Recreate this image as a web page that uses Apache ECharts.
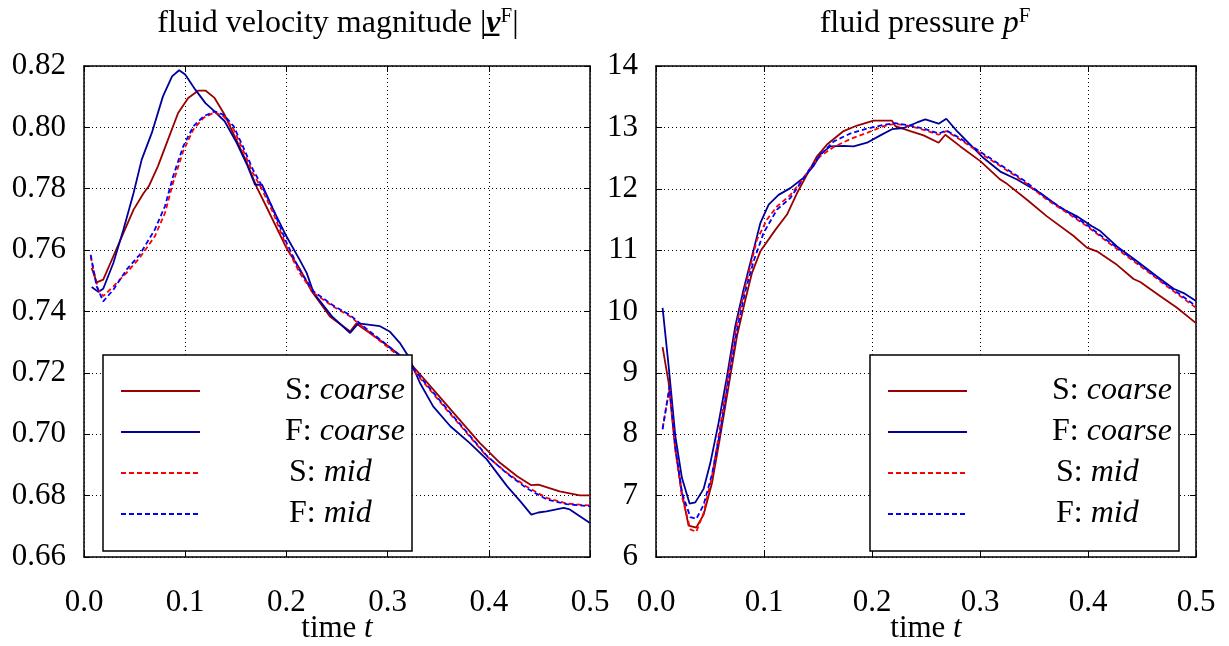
<!DOCTYPE html>
<html>
<head>
<meta charset="utf-8">
<script src="https://cdn.jsdelivr.net/npm/echarts@6/dist/echarts.min.js"></script>
<style>
html,body{margin:0;padding:0;background:#fff;}
#chart{width:1229px;height:646px;}
</style>
</head>
<body>
<div id="chart"></div>
<script>
// ---------- data ----------
const seriesNames = ['S: coarse', 'F: coarse', 'S: mid', 'F: mid'];
const xTicks = [0.0, 0.1, 0.2, 0.3, 0.4, 0.5];
const velTicks = [0.66, 0.68, 0.70, 0.72, 0.74, 0.76, 0.78, 0.80, 0.82];
const presTicks = [6, 7, 8, 9, 10, 11, 12, 13, 14];

// fluid velocity magnitude
const velT_Scoarse = [0.0076,0.0125,0.019,0.029,0.039,0.049,0.059,0.064,0.073,0.083,0.093,0.103,0.113,0.12,0.129,0.139,0.149,0.161,0.171,0.18,0.2,0.213,0.225,0.243,0.263,0.269,0.296,0.322,0.345,0.368,0.391,0.411,0.428,0.442,0.449,0.47,0.49,0.5];
const velV_Scoarse = [0.7542,0.7495,0.7504,0.758,0.7656,0.7732,0.7786,0.7808,0.7873,0.796,0.8047,0.8096,0.812,0.812,0.8096,0.8041,0.797,0.7884,0.7803,0.7743,0.7607,0.754,0.7466,0.7384,0.7335,0.7361,0.7298,0.7233,0.7146,0.7059,0.6972,0.6907,0.6863,0.6834,0.6836,0.6814,0.6801,0.6801];

const velT_Fcoarse = [0.0076,0.0141,0.019,0.029,0.039,0.049,0.057,0.067,0.078,0.087,0.094,0.1,0.11,0.12,0.129,0.139,0.151,0.161,0.169,0.176,0.187,0.2,0.213,0.22,0.227,0.245,0.263,0.271,0.2925,0.302,0.312,0.3205,0.332,0.345,0.362,0.381,0.398,0.418,0.431,0.442,0.449,0.457,0.474,0.48,0.49,0.5];
const velV_Fcoarse = [0.748,0.7464,0.7474,0.7558,0.7667,0.7786,0.7895,0.7982,0.8101,0.8166,0.8186,0.8172,0.8123,0.8079,0.8052,0.802,0.7949,0.7879,0.7813,0.7813,0.7732,0.7645,0.7569,0.7526,0.746,0.7384,0.733,0.7361,0.7352,0.7335,0.7298,0.7254,0.7167,0.7091,0.7026,0.6972,0.6918,0.6831,0.6782,0.6738,0.6745,0.6749,0.676,0.6755,0.6733,0.6711];

const velT_Smid = [0.0066,0.0092,0.0141,0.019,0.029,0.042,0.055,0.07,0.08,0.088,0.098,0.108,0.118,0.129,0.138,0.148,0.157,0.167,0.176,0.187,0.2,0.213,0.227,0.246,0.263,0.279,0.299,0.319,0.339,0.358,0.378,0.398,0.418,0.437,0.457,0.477,0.5];
const velV_Smid = [0.758,0.7536,0.7471,0.745,0.7482,0.7526,0.7575,0.7645,0.7721,0.7819,0.7922,0.7993,0.8031,0.8049,0.8036,0.7993,0.7927,0.7851,0.7797,0.7721,0.7612,0.7526,0.746,0.7417,0.7384,0.734,0.7287,0.7233,0.7156,0.7081,0.7005,0.6928,0.6874,0.683,0.6793,0.6774,0.6768];

const velT_Fmid = [0.0066,0.0125,0.019,0.029,0.042,0.055,0.07,0.08,0.088,0.098,0.108,0.118,0.129,0.138,0.148,0.157,0.167,0.176,0.187,0.2,0.213,0.227,0.246,0.263,0.279,0.299,0.319,0.339,0.358,0.378,0.398,0.418,0.437,0.457,0.477,0.5];
const velV_Fmid = [0.7585,0.7482,0.7433,0.7471,0.7536,0.7585,0.7667,0.7743,0.784,0.7938,0.8003,0.8036,0.8052,0.8041,0.8003,0.7938,0.7862,0.7808,0.7732,0.7625,0.7535,0.7465,0.742,0.7388,0.7344,0.7292,0.7238,0.716,0.7085,0.7008,0.693,0.6872,0.6825,0.6788,0.6772,0.6765];

// fluid pressure
const presT_Scoarse = [0.0061,0.0117,0.0179,0.024,0.0302,0.0373,0.0441,0.0519,0.0595,0.0672,0.075,0.0827,0.0889,0.0966,0.1105,0.1213,0.1306,0.1398,0.1491,0.1583,0.1737,0.1861,0.2015,0.2185,0.2216,0.2355,0.2478,0.2617,0.2679,0.2818,0.3003,0.3188,0.325,0.3435,0.362,0.3867,0.399,0.4083,0.4268,0.4422,0.4484,0.467,0.4824,0.5];
const presV_Scoarse = [9.42,8.84,7.75,7.05,6.51,6.48,6.69,7.21,7.97,8.78,9.60,10.19,10.63,10.98,11.33,11.58,11.93,12.23,12.53,12.72,12.94,13.03,13.11,13.11,13.02,12.94,12.87,12.75,12.88,12.69,12.45,12.15,12.08,11.82,11.55,11.23,11.04,10.98,10.76,10.53,10.48,10.25,10.06,9.81];

const presT_Fcoarse = [0.0061,0.0117,0.0179,0.024,0.0311,0.0364,0.0441,0.0503,0.058,0.0657,0.0734,0.0811,0.0889,0.0966,0.1043,0.1135,0.1244,0.1367,0.1459,0.1521,0.1614,0.1737,0.183,0.1954,0.2077,0.2185,0.2293,0.2417,0.2494,0.2617,0.2688,0.2787,0.291,0.3033,0.3188,0.3343,0.3558,0.3744,0.3898,0.4037,0.4114,0.4268,0.4454,0.4639,0.4793,0.4886,0.5];
const presV_Fcoarse = [10.06,9.11,7.97,7.29,6.87,6.89,7.11,7.53,8.19,8.94,9.76,10.36,10.9,11.44,11.74,11.9,12.01,12.18,12.37,12.56,12.69,12.70,12.69,12.75,12.87,12.97,12.99,13.08,13.13,13.06,13.14,12.94,12.72,12.5,12.28,12.15,11.93,11.69,11.55,11.39,11.31,11.06,10.82,10.57,10.37,10.30,10.17];

const presT_Smid = [0.0061,0.0126,0.0179,0.024,0.0318,0.0373,0.0441,0.0519,0.0595,0.0672,0.075,0.0827,0.0935,0.1028,0.112,0.1244,0.1336,0.1429,0.1521,0.1645,0.1799,0.1954,0.2108,0.2216,0.2355,0.2478,0.2617,0.2688,0.2818,0.3003,0.3188,0.3404,0.362,0.3806,0.399,0.4176,0.4361,0.4546,0.4731,0.5];
const presV_Smid = [8.10,8.76,7.75,6.99,6.45,6.41,6.72,7.32,8.13,9.0,9.81,10.41,11.17,11.5,11.71,11.9,12.1,12.34,12.53,12.68,12.81,12.91,13.02,13.06,13.02,12.96,12.88,12.94,12.8,12.58,12.37,12.12,11.82,11.61,11.39,11.14,10.9,10.66,10.41,10.06];

const presT_Fmid = [0.0061,0.0126,0.0179,0.024,0.0318,0.0373,0.0441,0.0519,0.0595,0.0672,0.075,0.0827,0.0904,0.0996,0.112,0.1244,0.1336,0.1429,0.1521,0.1645,0.1799,0.1954,0.2108,0.2216,0.2355,0.2478,0.2617,0.2688,0.2818,0.3003,0.3188,0.3404,0.362,0.3806,0.399,0.4176,0.4361,0.4546,0.4731,0.5];
const presV_Fmid = [8.08,8.78,7.80,7.05,6.65,6.62,6.85,7.35,8.05,8.9,9.7,10.33,10.82,11.28,11.66,11.85,12.09,12.33,12.55,12.77,12.9,12.98,13.04,13.07,13.03,12.98,12.9,12.95,12.82,12.6,12.39,12.14,11.84,11.63,11.41,11.16,10.92,10.68,10.43,10.09];

// ---------- chart ----------
const FONT = 'Liberation Serif';
const TICK_FS = 31, LEG_FS = 32, TITLE_FS = 32;
const zip = (t, v) => t.map((x, i) => [x, v[i]]);

const colors = ['#990000', '#000099', '#ff0000', '#0000ff'];
const dashed = [false, false, true, true];

function makeSeries(gridIdx, tArrs, vArrs) {
  return seriesNames.map((n, k) => ({
    name: n,
    type: 'line',
    xAxisIndex: gridIdx * 2,
    yAxisIndex: gridIdx * 2,
    data: zip(tArrs[k], vArrs[k]),
    symbol: 'none',
    smooth: false,
    animation: false,
    z: dashed[k] ? 3 : 2,
    lineStyle: { color: colors[k], width: 1.8, type: dashed[k] ? [5, 3] : 'solid' },
    itemStyle: { color: colors[k] }
  }));
}

function xAxes(gridIdx) {
  const base = {
    gridIndex: gridIdx, type: 'value', min: 0, max: 0.5, interval: 0.1,
    axisLine: { show: true, onZero: false, lineStyle: { color: '#000', width: 1.5 } },
    axisTick: { show: true, inside: true, length: 6, lineStyle: { color: '#000', width: 1 } }
  };
  return [
    Object.assign({}, base, {
      position: 'bottom',
      axisLabel: { show: true, color: '#000', fontFamily: FONT, fontSize: TICK_FS, margin: 30,
        formatter: v => xTicks.find(t => Math.abs(t - v) < 1e-6).toFixed(1) },
      splitLine: { show: true, lineStyle: { color: '#000', width: 1, type: [1, 3] } },
      name: 'time {i|t}', nameLocation: 'middle', nameGap: 56, nameMoveOverlap: false,
      nameTextStyle: { color: '#000', fontFamily: FONT, fontSize: TICK_FS,
        rich: { i: { fontFamily: FONT, fontSize: TICK_FS, fontStyle: 'italic', color: '#000' } } }
    }),
    Object.assign({}, base, { position: 'top', axisLabel: { show: false }, splitLine: { show: false } })
  ];
}

function yAxes(gridIdx, min, max, interval, digits) {
  const base = {
    gridIndex: gridIdx, type: 'value', min: min, max: max, interval: interval,
    axisLine: { show: true, onZero: false, lineStyle: { color: '#000', width: 1.5 } },
    axisTick: { show: true, inside: true, length: 6, lineStyle: { color: '#000', width: 1 } }
  };
  return [
    Object.assign({}, base, {
      position: 'left',
      axisLabel: { show: true, color: '#000', fontFamily: FONT, fontSize: TICK_FS, margin: 18,
        formatter: v => v.toFixed(digits) },
      splitLine: { show: true, lineStyle: { color: '#000', width: 1, type: [1, 3] } }
    }),
    Object.assign({}, base, { position: 'right', axisLabel: { show: false }, splitLine: { show: false } })
  ];
}

function legend(left) {
  return {
    orient: 'vertical', left: left, top: 355,
    data: seriesNames,
    itemWidth: 79, itemHeight: 14, itemGap: 9,
    padding: [20, 7, 21, 17],
    backgroundColor: '#fff', borderColor: '#000', borderWidth: 1.5,
    selectedMode: false,
    itemStyle: { opacity: 0 },
    formatter: name => {
      const parts = name.split(': ');
      const sp = parts[1] === 'mid' ? 'sm' : 'sc';
      return '{' + sp + '| }{n|' + parts[0] + ': }{i|' + parts[1] + '}';
    },
    textStyle: {
      color: '#000', fontFamily: FONT, fontSize: LEG_FS, lineHeight: 30,
      rich: {
        sc: { width: 80, fontSize: LEG_FS, lineHeight: 30, fontFamily: FONT },
        sm: { width: 84, fontSize: LEG_FS, lineHeight: 30, fontFamily: FONT },
        n: { fontSize: LEG_FS, lineHeight: 30, fontFamily: FONT, color: '#000' },
        i: { fontSize: LEG_FS, lineHeight: 30, fontFamily: FONT, fontStyle: 'italic', color: '#000' }
      }
    }
  };
}

const titleRich = {
  n: { fontFamily: FONT, fontSize: TITLE_FS, color: '#000' },
  v: { fontFamily: FONT, fontSize: TITLE_FS, color: '#000', fontStyle: 'italic', fontWeight: 'bold' },
  p: { fontFamily: FONT, fontSize: TITLE_FS, color: '#000', fontStyle: 'italic' },
  s: { fontFamily: FONT, fontSize: 21, color: '#000', padding: [0, 0, 15, 0] }
};

const option = {
  backgroundColor: '#fff',
  animation: false,
  title: [
    { text: '{n|fluid velocity magnitude |}{v|v\u0332}{s|F}{n||}', left: 333, top: 1, textAlign: 'center',
      textStyle: { fontFamily: FONT, fontSize: TITLE_FS, fontWeight: 'normal', color: '#000', rich: titleRich } },
    { text: '{n|fluid pressure }{p|p}{s|F}', left: 920, top: 1, textAlign: 'center',
      textStyle: { fontFamily: FONT, fontSize: TITLE_FS, fontWeight: 'normal', color: '#000', rich: titleRich } }
  ],
  grid: [
    { left: 84, top: 66, width: 506, height: 491, containLabel: false, outerBoundsMode: 'none' },
    { left: 656, top: 66, width: 540, height: 491, containLabel: false, outerBoundsMode: 'none' }
  ],
  xAxis: xAxes(0).concat(xAxes(1)),
  yAxis: yAxes(0, 0.66, 0.82, 0.02, 2).concat(yAxes(1, 6, 14, 1, 0)),
  legend: [legend(103), legend(870)],
  series: makeSeries(0, [velT_Scoarse, velT_Fcoarse, velT_Smid, velT_Fmid],
                        [velV_Scoarse, velV_Fcoarse, velV_Smid, velV_Fmid])
    .concat(makeSeries(1, [presT_Scoarse, presT_Fcoarse, presT_Smid, presT_Fmid],
                          [presV_Scoarse, presV_Fcoarse, presV_Smid, presV_Fmid]))
};

const chart = echarts.init(document.getElementById('chart'), null, { renderer: 'canvas' });
chart.setOption(option);
</script>
</body>
</html>
